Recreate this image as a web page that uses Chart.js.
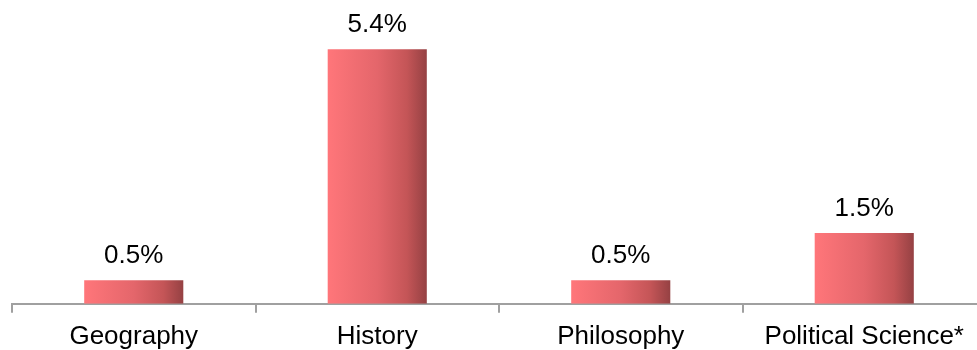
<!DOCTYPE html>
<html>
<head>
<meta charset="utf-8">
<script src="https://cdn.jsdelivr.net/npm/chart.js@4/dist/chart.umd.min.js"></script>
<style>
  html, body { margin: 0; padding: 0; background: #fff; overflow: hidden; }
  #wrap { width: 990px; height: 360px; }
</style>
</head>
<body>
<div id="wrap"><canvas id="subjectChart"></canvas></div>
<script>
// Share by subject
const categories = ["Geography", "History", "Philosophy", "Political Science*"];
const shares = [0.5, 5.4, 0.5, 1.5];
const yMax = 6;

const BAR_PCT = 0.407;
const FONT = "'Liberation Sans', Arial, sans-serif";

function barGradient(ctx) {
  const chart = ctx.chart;
  const xs = chart.scales.x;
  if (!xs || !chart.chartArea) return "#e0646a";
  const x = xs.getPixelForValue(ctx.dataIndex);
  const half = xs.width / categories.length * BAR_PCT / 2;
  const g = chart.ctx.createLinearGradient(x - half, 0, x + half, 0);
  g.addColorStop(0, "#ff767a");
  g.addColorStop(0.5, "#e4666b");
  g.addColorStop(0.8, "#c45557");
  g.addColorStop(1, "#954143");
  return g;
}

// value labels above the bars
const valueLabels = {
  id: "valueLabels",
  afterDatasetsDraw(chart) {
    const c = chart.ctx;
    c.save();
    c.font = "26px " + FONT;
    c.fillStyle = "#000";
    c.textAlign = "center";
    c.textBaseline = "alphabetic";
    chart.getDatasetMeta(0).data.forEach((bar, i) => {
      c.fillText(shares[i].toFixed(1) + "%", bar.x, bar.y - 17);
    });
    c.restore();
  }
};

new Chart(document.getElementById("subjectChart"), {
  type: "bar",
  data: {
    labels: categories,
    datasets: [{
      data: shares,
      backgroundColor: barGradient,
      borderWidth: 0,
      categoryPercentage: 1,
      barPercentage: BAR_PCT
    }]
  },
  options: {
    responsive: true,
    maintainAspectRatio: false,
    animation: false,
    layout: { padding: { top: 21, left: 12, right: 4, bottom: 0 } },
    plugins: {
      legend: { display: false },
      tooltip: { enabled: false }
    },
    scales: {
      x: {
        grid: {
          offset: true,
          drawOnChartArea: false,
          drawTicks: true,
          tickLength: 9,
          color: "#a0a0a0",
          lineWidth: 2
        },
        border: { color: "#a0a0a0", width: 2 },
        ticks: {
          color: "#000",
          padding: 8,
          maxRotation: 0,
          font: { family: FONT, size: 26 }
        }
      },
      y: {
        display: false,
        min: 0,
        max: yMax
      }
    }
  },
  plugins: [valueLabels]
});
</script>
</body>
</html>
